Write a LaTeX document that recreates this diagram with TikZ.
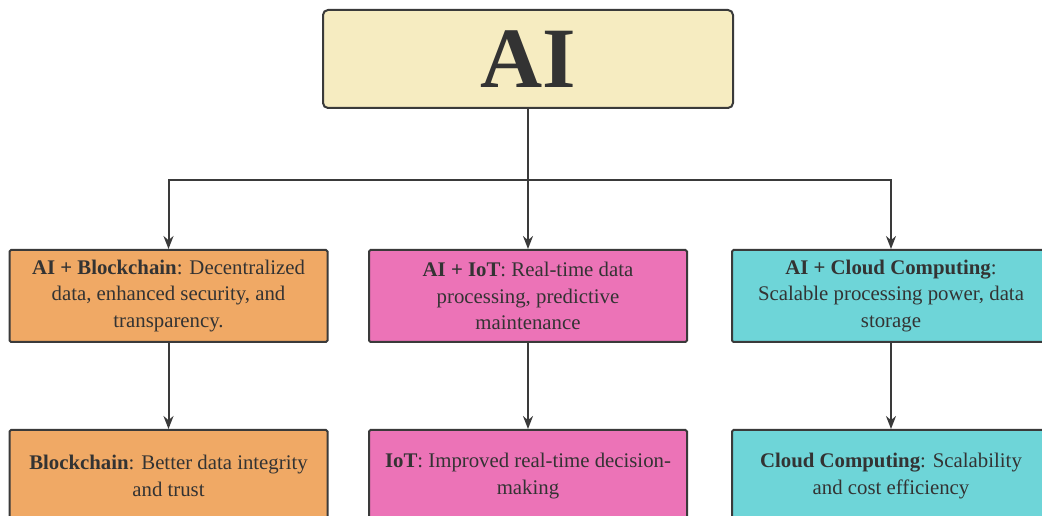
\documentclass[tikz,border=0pt]{standalone}
\usepackage{fontspec}
\setmainfont{Liberation Serif}
\usetikzlibrary{positioning,arrows.meta}
\definecolor{aifill}{HTML}{F6ECC1}
\definecolor{bcfill}{HTML}{F0A965}
\definecolor{iotfill}{HTML}{EC73B7}
\definecolor{cloudfill}{HTML}{6ED5D8}
\definecolor{boxline}{HTML}{3A3A3A}
\definecolor{textgray}{HTML}{333333}

\begin{document}
\begin{tikzpicture}
[x=1pt,y=1pt,
 box/.style={shape=rectangle,draw=boxline,line width=2pt,rounded corners=1.5pt,
   minimum width=318pt,minimum height=92pt,inner sep=0pt,align=center,
   text=textgray,font=\fontsize{20.8}{26.5}\selectfont},
 topbox/.style={box,fill=aifill,minimum width=410pt,minimum height=98pt,
   rounded corners=5pt,font=\fontsize{86}{86}\selectfont\bfseries},
 wire/.style={draw=boxline,line width=2pt},
 >={Stealth[length=13pt,width=10pt]}]
\useasboundingbox (0,0) rectangle (1042,516);

\node[topbox] (ai) at (528,457) {AI};
\coordinate (split) at (528,336);

\node[box,fill=bcfill] (aibc) at (168.5,220) {\textbf{AI + Blockchain}: Decentralized\\data, enhanced security, and\\transparency.};
\node[box,fill=iotfill] (aiiot) at (528,220) {\textbf{AI + IoT}: Real-time data\\processing, predictive\\maintenance};
\node[box,fill=cloudfill] (aicloud) at (891,220) {\textbf{AI + Cloud Computing}:\\Scalable processing power, data\\storage};

\node[box,fill=bcfill] (bc) [below=86pt of aibc] {\textbf{Blockchain}: Better data integrity\\and trust};
\node[box,fill=iotfill] (iot) [below=86pt of aiiot] {\textbf{IoT}: Improved real-time decision-\\making};
\node[box,fill=cloudfill] (cloud) [below=86pt of aicloud] {\textbf{Cloud Computing}: Scalability\\and cost efficiency};

\draw[wire] (ai) -- (split);
\draw[wire,->] (split) -| (aibc);
\draw[wire,->] (split) -- (aiiot);
\draw[wire,->] (split) -| (aicloud);
\draw[wire,->] (aibc) -- (bc);
\draw[wire,->] (aiiot) -- (iot);
\draw[wire,->] (aicloud) -- (cloud);
\end{tikzpicture}
\end{document}
